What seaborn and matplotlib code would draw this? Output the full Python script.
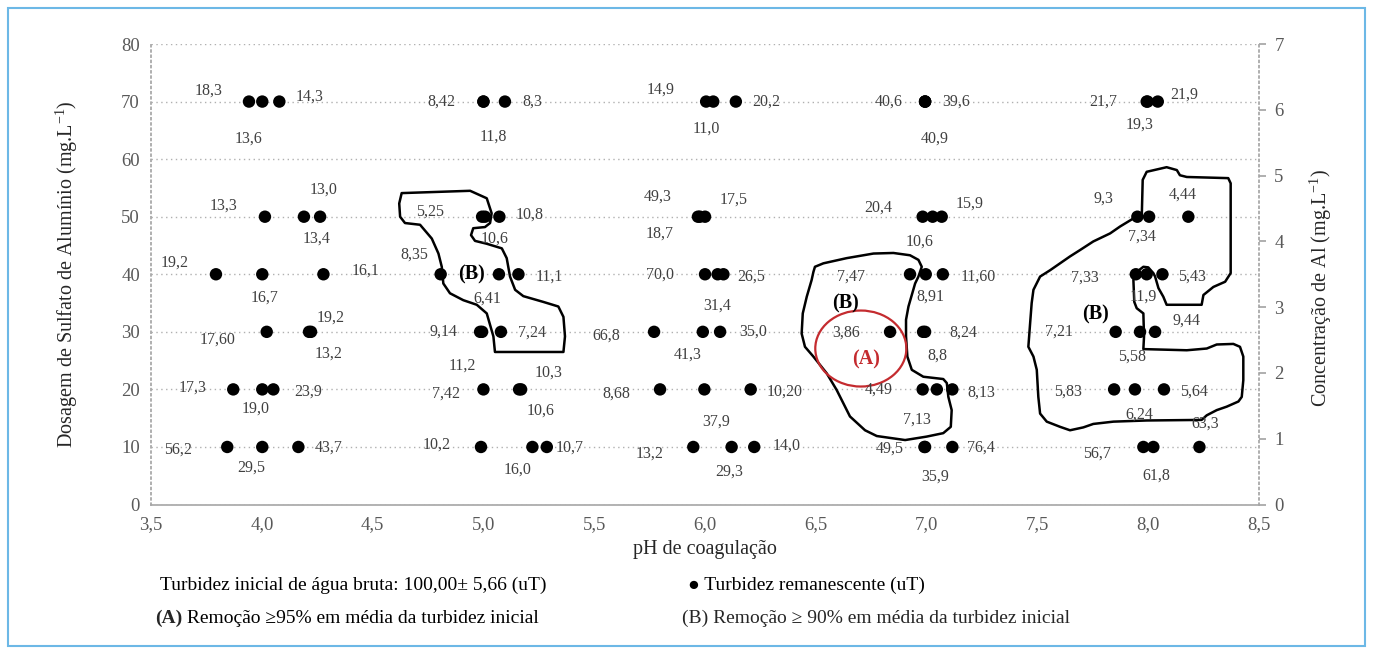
import matplotlib
matplotlib.use('Agg')
import matplotlib.pyplot as plt
from matplotlib.patches import Ellipse, Polygon, Rectangle
import pandas as pd
import seaborn as sns

# pH de coagulação de cada ensaio
ph = [3.942, 4.002, 4.079, 4.014, 4.190, 4.263, 3.793, 4.002, 4.278,
      4.022, 4.213, 4.222, 3.871, 4.002, 4.052, 3.844, 4.002, 4.165,
      5.000, 5.000, 5.097, 4.994, 5.007, 5.072, 4.807, 5.070, 5.158,
      4.985, 4.994, 5.079, 5.000, 5.161, 5.170, 4.989, 5.221, 5.286,
      6.005, 6.037, 6.139, 5.968, 5.977, 6.000, 6.000, 6.057, 6.083,
      5.770, 5.990, 6.068, 5.797, 5.997, 6.206, 5.947, 6.120, 6.222,
      6.993, 6.993, 6.993, 6.982, 7.027, 7.068, 6.925, 6.996, 7.073,
      6.835, 6.984, 6.993, 6.982, 7.046, 7.116, 6.990, 6.993, 7.116,
      7.993, 7.997, 8.043, 7.951, 8.004, 8.181, 7.944, 7.993, 8.064,
      7.853, 7.963, 8.031, 7.846, 7.940, 8.071, 7.978, 8.023, 8.231]

# dosagem de sulfato de aluminio (mg/L)
dosagem = [70, 70, 70, 50, 50, 50, 40, 40, 40, 30, 30, 30, 20, 20, 20, 10, 10, 10,
           70, 70, 70, 50, 50, 50, 40, 40, 40, 30, 30, 30, 20, 20, 20, 10, 10, 10,
           70, 70, 70, 50, 50, 50, 40, 40, 40, 30, 30, 30, 20, 20, 20, 10, 10, 10,
           70, 70, 70, 50, 50, 50, 40, 40, 40, 30, 30, 30, 20, 20, 20, 10, 10, 10,
           70, 70, 70, 50, 50, 50, 40, 40, 40, 30, 30, 30, 20, 20, 20, 10, 10, 10]

# turbidez remanescente (uT)
turbidez = ['18,3', '13,6', '14,3', '13,3', '13,4', '13,0', '19,2', '16,7', '16,1',
            '17,60', '19,2', '13,2', '17,3', '19,0', '23,9', '56,2', '29,5', '43,7',
            '8,42', '11,8', '8,3', '5,25', '10,6', '10,8', '8,35', '6,41', '11,1',
            '9,14', '11,2', '7,24', '7,42', '10,3', '10,6', '10,2', '16,0', '10,7',
            '14,9', '11,0', '20,2', '49,3', '18,7', '17,5', '70,0', '31,4', '26,5',
            '66,8', '41,3', '35,0', '8,68', '37,9', '10,20', '13,2', '29,3', '14,0',
            '40,6', '40,9', '39,6', '20,4', '10,6', '15,9', '7,47', '8,91', '11,60',
            '3,86', '8,8', '8,24', '4,49', '7,13', '8,13', '49,5', '35,9', '76,4',
            '21,7', '19,3', '21,9', '9,3', '7,34', '4,44', '7,33', '11,9', '5,43',
            '7,21', '5,58', '9,44', '5,83', '6,24', '5,64', '56,7', '61,8', '63,3']

# deslocamento dos rotulos em pixels (dx, dy)
label_offsets = [(-40, 11), (-14, -37), (30, 5), (-41, 11), (13, -22), (3, 27),
                 (-41, 12), (2, -23), (42, 4), (-49, -8), (22, 14), (18, -22),
                 (-41, 2), (-7, -19), (35, -2), (-49, -3), (-11, -21), (30, -1),
                 (-42, 0), (10, -35), (27, 0), (-52, 5), (10, -22), (30, 2),
                 (-26, 20), (-12, -24), (31, -2), (-37, 0), (-20, -34), (31, -1),
                 (-37, -4), (29, 17), (19, -21), (-44, 2), (-15, -23), (23, -1),
                 (-46, 12), (-7, -27), (30, 0), (-40, 20), (-40, -17), (29, 17),
                 (-45, 0), (0, -31), (28, -2), (-48, -4), (-15, -23), (33, 0),
                 (-44, -4), (12, -32), (34, -2), (-44, -7), (-2, -25), (32, 1),
                 (-36, 0), (10, -37), (31, 0), (-44, 9), (-13, -25), (28, 13),
                 (-59, -2), (5, -22), (35, -2), (-44, -1), (14, -24), (38, -1),
                 (-44, 0), (-20, -30), (29, -3), (-35, -2), (10, -30), (29, -1),
                 (-43, 0), (-8, -23), (26, 7), (-34, 18), (-7, -20), (-6, 22),
                 (-51, -3), (-3, -22), (30, -2), (-57, 0), (-8, -25), (31, 11),
                 (-46, -2), (4, -25), (30, -2), (-46, -7), (3, -29), (6, 23)]

# contornos desenhados a mao (regiao B) em coordenadas (pH, dosagem)
regiao_b1 = [(4.631, 54.1), (4.94, 54.5), (5.015, 53.2), (5.037, 50.6), (5.03, 48.9),
             (5.007, 48.2), (4.954, 48.0), (4.944, 46.8), (4.962, 45.8), (5.015, 45.3),
             (5.083, 44.5), (5.105, 42.8), (5.12, 39.6), (5.143, 37.3), (5.18, 36.2),
             (5.27, 35.2), (5.338, 34.4), (5.361, 32.6), (5.368, 29.2), (5.361, 26.5),
             (5.052, 26.5), (5.045, 29.2), (5.015, 33.2), (4.97, 34.7), (4.909, 35.5),
             (4.849, 36.7), (4.819, 38.4), (4.812, 41.3), (4.797, 43.6), (4.767, 46.2),
             (4.714, 48.6), (4.646, 48.9), (4.624, 50.0), (4.62, 52.3)]
regiao_b2 = [(6.496, 41.3), (6.534, 41.9), (6.639, 42.8), (6.76, 43.6), (6.85, 43.7),
             (6.925, 43.3), (6.963, 42.5), (6.978, 41.3), (6.963, 39.6), (6.948, 38.4),
             (6.933, 36.4), (6.918, 34.4), (6.907, 32.1), (6.907, 29.2), (6.913, 25.7),
             (6.933, 23.4), (6.985, 22.2), (7.075, 21.8), (7.091, 21.1), (7.098, 18.7),
             (7.113, 16.4), (7.109, 13.5), (7.075, 12.4), (7.0, 11.8), (6.903, 11.2),
             (6.775, 11.9), (6.722, 12.9), (6.654, 15.3), (6.624, 17.6), (6.594, 19.9),
             (6.549, 22.8), (6.489, 25.7), (6.451, 27.4), (6.436, 29.7), (6.441, 33.2),
             (6.459, 36.1), (6.481, 39.0), (6.489, 40.4)]
regiao_b3 = [(7.948, 49.9), (7.971, 50.3), (7.975, 56.4), (7.993, 57.8), (8.083, 58.6),
             (8.129, 58.1), (8.143, 57.2), (8.174, 56.9), (8.361, 56.7), (8.372, 55.8),
             (8.372, 40.2), (8.347, 38.7), (8.294, 37.8), (8.249, 36.4), (8.241, 34.7),
             (8.083, 34.7), (8.068, 36.1), (8.046, 37.6), (8.031, 39.6), (8.023, 40.2),
             (8.0, 41.2), (7.978, 41.3), (7.948, 40.4), (7.933, 39.0), (7.937, 35.2),
             (7.948, 34.1), (7.978, 33.2), (7.981, 29.2), (7.978, 27.0), (8.174, 26.8),
             (8.264, 27.1), (8.309, 27.8), (8.384, 27.9), (8.414, 27.4), (8.429, 25.7),
             (8.429, 21.6), (8.422, 18.7), (8.407, 17.9), (8.354, 17.0), (8.309, 16.4),
             (8.264, 15.5), (8.241, 14.7), (7.993, 14.6), (7.843, 14.4), (7.752, 14.0),
             (7.707, 13.4), (7.647, 12.9), (7.602, 13.5), (7.542, 14.4), (7.512, 15.8),
             (7.504, 18.7), (7.497, 23.4), (7.482, 25.7), (7.459, 27.4), (7.467, 31.5),
             (7.474, 35.0), (7.482, 37.3), (7.512, 39.6), (7.557, 40.7), (7.602, 41.9),
             (7.647, 43.1), (7.692, 44.2), (7.752, 45.7), (7.828, 47.1), (7.873, 48.3),
             (7.933, 49.7)]
rotulos_b = [(4.947, 39.9), (6.632, 35.0), (7.76, 33.1)]

x_ticks = [3.5, 4.0, 4.5, 5.0, 5.5, 6.0, 6.5, 7.0, 7.5, 8.0, 8.5]

sns.set_theme(style='white')
plt.rcParams['font.family'] = ['Liberation Serif', 'DejaVu Serif']
plt.rcParams['mathtext.fontset'] = 'custom'
plt.rcParams['mathtext.rm'] = 'Liberation Serif'

df = pd.DataFrame({'ph': ph, 'dosagem': dosagem, 'turbidez': turbidez})

fig = plt.figure(figsize=(13.73, 6.5), dpi=100)
ax = fig.add_axes([0.110, 0.2238, 0.807, 0.7085])

sns.scatterplot(data=df, x='ph', y='dosagem', ax=ax, color='black', s=80,
                edgecolor='none', zorder=5, legend=False)

for xv, yv, lab, off in zip(df['ph'], df['dosagem'], df['turbidez'], label_offsets):
    ax.annotate(lab, (xv, yv), xytext=off, textcoords='offset pixels',
                ha='center', va='center', fontsize=11.5, color='#404040', zorder=6)

# regioes B
for reg in [regiao_b1, regiao_b2, regiao_b3]:
    ax.add_patch(Polygon(reg, closed=True, fill=False, edgecolor='black',
                         linewidth=1.8, joinstyle='round', zorder=4))
for xb, yb in rotulos_b:
    ax.text(xb, yb, '(B)', ha='center', va='center', fontsize=14.5,
            fontweight='bold', color='black', zorder=6)

# regiao A
ax.add_patch(Ellipse((6.703, 27.1), 0.411, 13.2, fill=False, edgecolor='#c42b2f',
                     linewidth=1.6, zorder=4))
ax.text(6.727, 25.2, '(A)', ha='center', va='center', fontsize=14.5,
        fontweight='bold', color='#c42b2f', zorder=6)

ax.set_xlim(3.5, 8.5)
ax.set_ylim(0, 80)
ax.set_xticks(x_ticks)
ax.set_xticklabels([f'{t:.1f}'.replace('.', ',') for t in x_ticks])
ax.set_yticks(range(0, 81, 10))
ax.tick_params(axis='both', length=0, labelsize=13.5, labelcolor='#595959', pad=8)
ax.yaxis.grid(True, linestyle=(0, (1, 2.5)), color='#b0b0b0', linewidth=1)
ax.xaxis.grid(False)
for side in ['top', 'right']:
    ax.spines[side].set_visible(False)
ax.spines['bottom'].set_color('#a6a6a6')
ax.spines['bottom'].set_linewidth(1.2)
ax.spines['left'].set_color('#a6a6a6')
ax.spines['left'].set_linestyle((0, (1, 2)))
ax.set_xlabel('pH de coagulação', fontsize=14.5, color='#262626', labelpad=5)
ax.set_ylabel('Dosagem de Sulfato de Alumínio (mg.L$^{\\mathregular{-1}}$)',
              fontsize=14.5, color='#262626')
ax.yaxis.set_label_coords(-0.064, 0.5)

ax2 = ax.twinx()
ax2.set_ylim(0, 7)
ax2.set_yticks(range(0, 8))
ax2.tick_params(axis='y', length=5, color='#a6a6a6', labelsize=13.5,
                labelcolor='#595959', pad=6)
for side in ['top', 'left', 'bottom']:
    ax2.spines[side].set_visible(False)
ax2.spines['right'].set_color('#a6a6a6')
ax2.spines['right'].set_linestyle((0, (1, 2)))
ax2.grid(False)
ax2.set_ylabel('Concentração de Al (mg.L$^{\\mathregular{-1}}$)', fontsize=14.5,
               color='#262626')
ax2.yaxis.set_label_coords(1.043, 0.47)

# textos de legenda abaixo do grafico
fig.text(0.1165, 0.100, 'Turbidez inicial de água bruta: 100,00± 5,66 (uT)',
         fontsize=14, color='black', va='center')
fig.text(0.501, 0.100, '● Turbidez remanescente (uT)', fontsize=14,
         color='black', va='center', family=['Liberation Serif', 'DejaVu Sans'])
ta = fig.text(0.113, 0.049, '(A)', fontsize=14, fontweight='bold', va='center')
ax.annotate(' Remoção ≥95% em média da turbidez inicial', xy=(1, 0.5),
            xycoords=ta, va='center', ha='left', fontsize=14, color='black',
            annotation_clip=False)
fig.text(0.497, 0.049, '(B) Remoção ≥ 90% em média da turbidez inicial',
         fontsize=14, va='center')

# moldura azul
fig.add_artist(Rectangle((0.006, 0.006), 0.988, 0.982, transform=fig.transFigure,
                         fill=False, edgecolor='#6cb8e6', linewidth=1.5))

fig.savefig('out.png', dpi=100)
